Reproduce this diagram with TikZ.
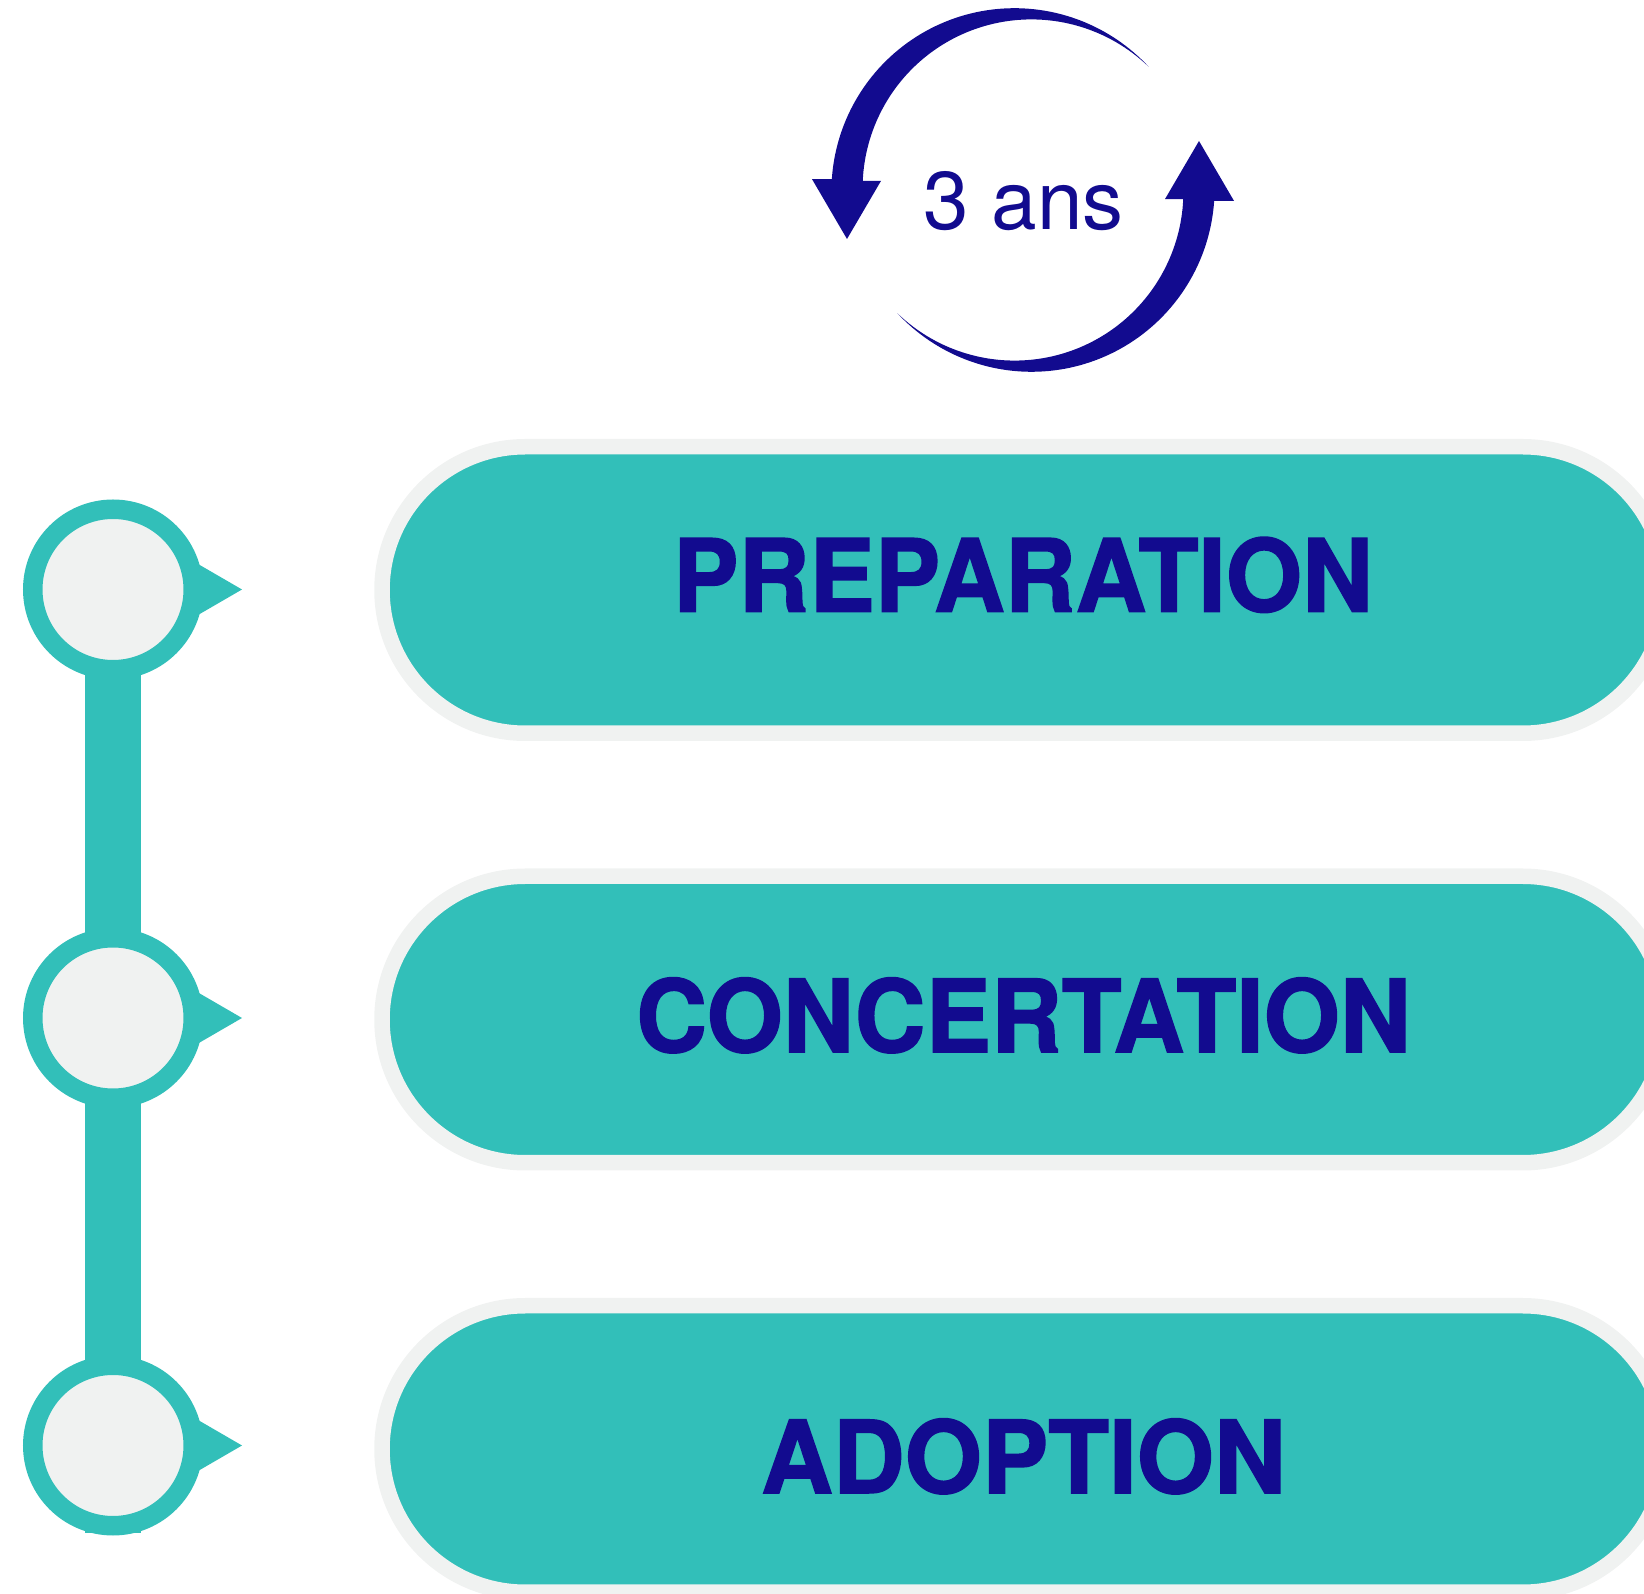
\documentclass[tikz,border=0pt]{standalone}
\usepackage{graphicx}
\usepackage{fontspec}
\setmainfont{TeX Gyre Heros}
\newfontfamily\phasefont{texgyreheros-bold.otf}[FakeBold=1.5]
\usetikzlibrary{shapes.misc,backgrounds,calc}
\definecolor{stepteal}{HTML}{32BFB9}
\definecolor{stepgrey}{HTML}{F0F2F1}
\definecolor{stepblue}{HTML}{120B8F}
\tikzset{
  pill/.style={rounded rectangle,draw=stepgrey,fill=stepteal,line width=0.155cm,
    minimum width=12.84cm,minimum height=2.865cm,inner sep=0pt},
  marker/.style={circle,draw=stepteal,fill=stepgrey,line width=0.195cm,
    minimum size=1.605cm,inner sep=0pt},
  phase/.style={anchor=base,text=stepblue,font=\phasefont\fontsize{28.6}{34}\selectfont}
}
\begin{document}
\begin{tikzpicture}
  \useasboundingbox (0,0) rectangle (16.44,-15.94);
  % cycle arrows
  \foreach \a in {0,180} {
    \begin{scope}[rotate around={\a:(10.23,-1.90)}]
      \fill[stepblue]
        plot[domain=44.5:176.75,samples=80] ({10.23+(1.76+0.07105-0.0862*cos(\x-10))*cos(\x)},{-1.90+(1.76+0.07105-0.0862*cos(\x-10))*sin(\x)})
        -- (8.12,-1.791) -- (8.47,-2.39) -- (8.81,-1.809)
        -- plot[domain=176.75:44.5,samples=80] ({10.23+(1.76-0.07105+0.0862*cos(\x-10))*cos(\x)},{-1.90+(1.76-0.07105+0.0862*cos(\x-10))*sin(\x)})
        -- cycle;
    \end{scope}
  }
  \node[anchor=base,text=stepblue,font=\fontsize{23.3}{28}\selectfont] (period) at (10.235,-2.30) {3 ans};
  % phases
  \node[pill] (prep) at (10.24,-5.90) {};
  \node[pill] (conc) at (10.24,-10.195) {};
  \node[pill] (adop) at (10.24,-14.49) {};
  \node[phase] (preptext) at (10.23,-6.115) {\scalebox{0.976}[1]{PREPARATION}};
  \node[phase] (conctext) at (10.235,-10.52) {\scalebox{0.976}[1]{CONCERTATION}};
  \node[phase] (adoptext) at (10.235,-14.93) {\scalebox{0.989}[1]{ADOPTION}};
  % timeline
  \foreach \n/\y in {1/-5.895,2/-10.18,3/-14.455}
    \node[marker] (m\n) at (1.13,\y) {};
  \coordinate (barend) at (1.13,-15.33);
  \begin{pgfonlayer}{background}
    \draw[stepteal,line width=0.567cm] (m1.center) -- (barend);
    \foreach \n in {1,2,3}
      \fill[stepteal] ($(m\n.center)+(1.29,0)$) -- ($(m\n.center)+(0.6,0.4)$) -- ($(m\n.center)+(0.6,-0.4)$) -- cycle;
  \end{pgfonlayer}
\end{tikzpicture}
\end{document}
